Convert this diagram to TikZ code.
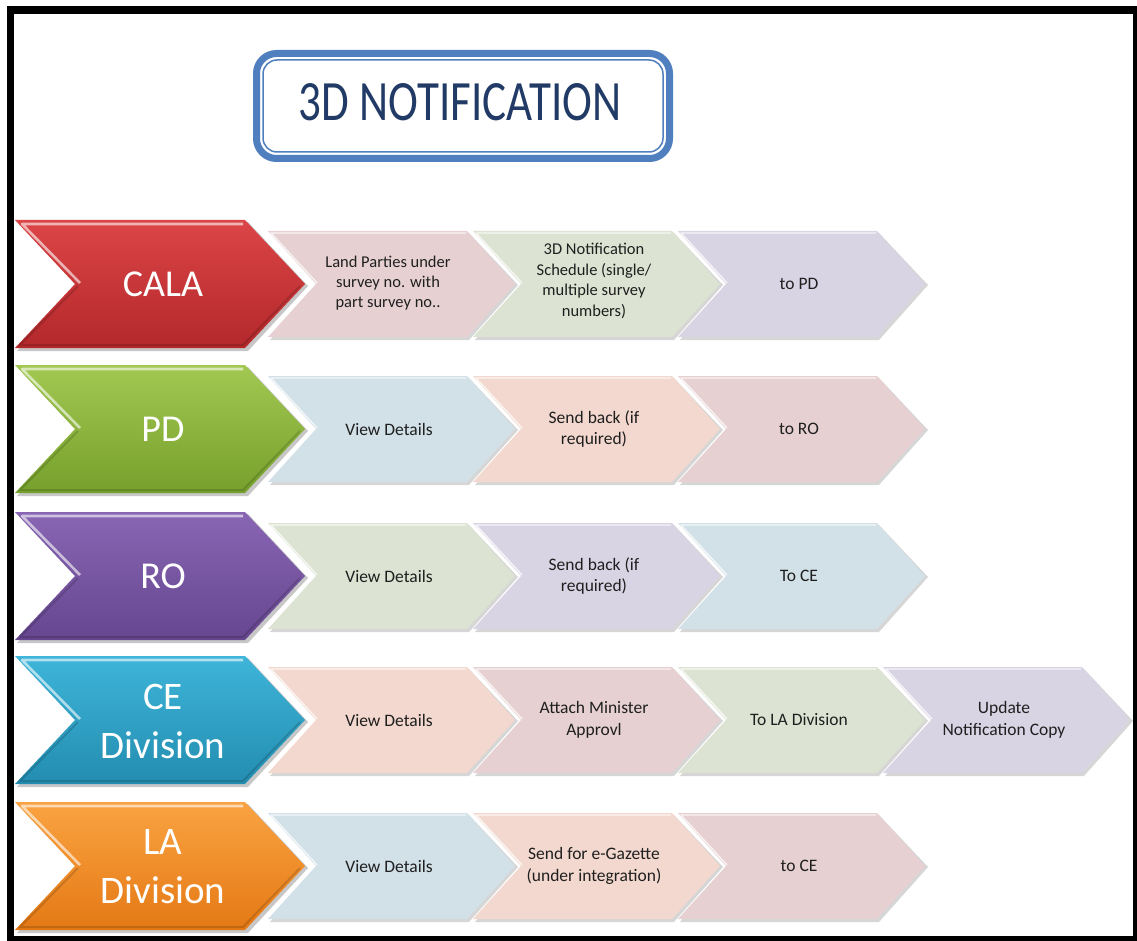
\documentclass[tikz,border=0pt]{standalone}
\usepackage{fontspec}
\setmainfont{Carlito}
\newfontfamily\titlefont{Carlito}[FakeStretch=0.79]
\definecolor{frameblue}{HTML}{4F7FBE}
\definecolor{titletext}{HTML}{213B66}
\definecolor{stepink}{HTML}{E6D0D2}
\definecolor{stgreen}{HTML}{DCE3D2}
\definecolor{stlav}{HTML}{D9D4E4}
\definecolor{stblue}{HTML}{D2E0E7}
\definecolor{stpeach}{HTML}{F2D8CE}
\definecolor{redT}{HTML}{DC4547}\definecolor{redB}{HTML}{B3282B}
\definecolor{grnT}{HTML}{A2C851}\definecolor{grnB}{HTML}{76A02C}
\definecolor{purT}{HTML}{8866B4}\definecolor{purB}{HTML}{66468F}
\definecolor{cyaT}{HTML}{3EB5D9}\definecolor{cyaB}{HTML}{238DB0}
\definecolor{oraT}{HTML}{FAA342}\definecolor{oraB}{HTML}{E47914}
\newcommand\mainchev[3]{%
  \fill[black,opacity=0.22] (17,#1-62) -- (248,#1-62) -- (308,#1+2) -- (248,#1+67) -- (17,#1+67) -- (77,#1+2) -- cycle;
  \shade[top color=#2,bottom color=#3] (15,#1-64) -- (245,#1-64) -- (305,#1) -- (245,#1+64) -- (15,#1+64) -- (75,#1) -- cycle;
  \draw[white,opacity=0.6,line width=2.6,line join=round] (80,#1-1) -- (22,#1-60) -- (243,#1-60);
  \draw[black,opacity=0.15,line width=2] (78,#1+2) -- (20,#1+61) -- (243,#1+61) -- (300,#1+2);
}
\newcommand\stepchev[3]{%
  \fill[black,opacity=0.16] (#1+2,#2-51) -- (#1+201,#2-51) -- (#1+250,#2+1) -- (#1+201,#2+56) -- (#1+2,#2+56) -- (#1+51,#2+1) -- cycle;
  \fill[#3] (#1,#2-53) -- (#1+199,#2-53) -- (#1+247,#2) -- (#1+199,#2+53) -- (#1,#2+53) -- (#1+48,#2) -- cycle;
  \draw[white,opacity=0.75,line width=1.4,line join=round] (#1+49,#2-1) -- (#1+3,#2-51) -- (#1+198,#2-51);
}
\tikzset{
  mainlab/.style={text=white,font=\fontsize{38pt}{48pt}\selectfont,align=center,inner sep=0pt},
  steplab/.style={text=black!88,font=\fontsize{17.5pt}{21.5pt}\selectfont,align=center,inner sep=0pt},
}
\begin{document}
\begin{tikzpicture}[x=1pt,y=-1pt]
\useasboundingbox (0,0) rectangle (1137,941);
% frame
\fill[black] (7,6) rectangle (1137,941);
\fill[white] (14,14) rectangle (1133,936);
% title
\draw[frameblue,line width=7,rounded corners=20] (256.5,53.5) rectangle (669.5,158.5);
\draw[frameblue,line width=1.5,rounded corners=14] (263,60) rectangle (663,152);
\node[anchor=base,text=titletext,inner sep=0pt] (title) at (460,121) {\titlefont\fontsize{57pt}{60pt}\selectfont 3D NOTIFICATION};
% row 1 CALA
\stepchev{268}{284}{stepink}
\stepchev{473}{284}{stgreen}
\stepchev{678}{284}{stlav}
\mainchev{284}{redT}{redB}
\node[mainlab] (cala) at (163,284) {CALA};
\node[steplab,font=\fontsize{16.5pt}{20pt}\selectfont] (s11) at (388,283) {Land Parties under\\survey no. with\\part survey no..};
\node[steplab,font=\fontsize{16.5pt}{20.5pt}\selectfont] (s12) at (594,281) {3D Notification\\Schedule (single/\\multiple survey\\numbers)};
\node[steplab] (s13) at (799,284) {to PD};
% row 2 PD
\stepchev{268}{429}{stblue}
\stepchev{473}{429}{stpeach}
\stepchev{678}{429}{stepink}
\mainchev{429}{grnT}{grnB}
\node[mainlab] (pd) at (163,429) {PD};
\node[steplab] (s21) at (389,429) {View Details};
\node[steplab] (s22) at (594,429) {Send back (if\\required)};
\node[steplab] (s23) at (799,429) {to RO};
% row 3 RO
\stepchev{268}{576}{stgreen}
\stepchev{473}{576}{stlav}
\stepchev{678}{576}{stblue}
\mainchev{576}{purT}{purB}
\node[mainlab] (ro) at (163,576) {RO};
\node[steplab] (s31) at (389,576) {View Details};
\node[steplab] (s32) at (594,576) {Send back (if\\required)};
\node[steplab] (s33) at (799,576) {To CE};
% row 4 CE
\stepchev{268}{720}{stpeach}
\stepchev{473}{720}{stepink}
\stepchev{678}{720}{stgreen}
\stepchev{883}{720}{stlav}
\mainchev{720}{cyaT}{cyaB}
\node[mainlab,font=\fontsize{39pt}{49pt}\selectfont] (ce) at (163,721) {CE\\Division};
\node[steplab] (s41) at (389,720) {View Details};
\node[steplab] (s42) at (594,720) {Attach Minister\\Approvl};
\node[steplab] (s43) at (799,720) {To LA Division};
\node[steplab] (s44) at (1004,720) {Update\\Notification Copy};
% row 5 LA
\stepchev{268}{866}{stblue}
\stepchev{473}{866}{stpeach}
\stepchev{678}{866}{stepink}
\mainchev{866}{oraT}{oraB}
\node[mainlab,font=\fontsize{39pt}{49pt}\selectfont] (la) at (163,867) {LA\\Division};
\node[steplab] (s51) at (389,866) {View Details};
\node[steplab] (s52) at (594,866) {Send for e-Gazette\\(under integration)};
\node[steplab] (s53) at (799,866) {to CE};
\end{tikzpicture}
\end{document}
